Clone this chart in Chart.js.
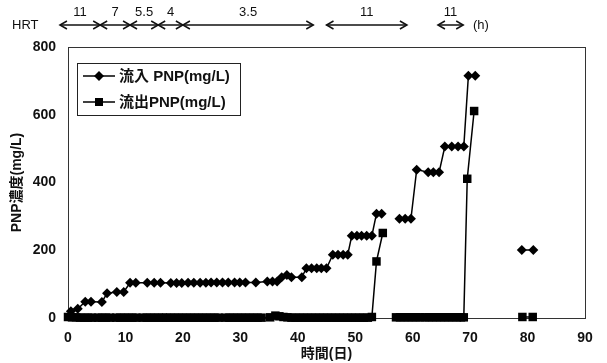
<!doctype html>
<html lang="ja">
<head>
<meta charset="UTF-8">
<script src="https://cdn.jsdelivr.net/npm/chart.js"></script>
<title>PNP濃度の推移</title>
<style>
  html, body { margin: 0; padding: 0; background: #fff; }
  #wrap { width: 607px; height: 363px; position: relative; }
</style>
</head>
<body>
<div id="wrap"><canvas id="chart" width="607" height="363"></canvas></div>
<script>
// 流入: 経過日数 (日) と PNP (mg/L)
const inDays = [0.5, 1.7, 3.0, 4.0, 5.9, 6.8, 8.5, 9.7, 10.8, 11.8, 13.8, 15.0, 16.1, 17.9, 18.9,
  19.8, 20.9, 21.9, 23.0, 24.0, 24.9, 25.9, 26.9, 27.9, 29.0, 29.9, 30.9, 32.7, 34.7, 35.6, 36.4,
  37.2, 38.1, 38.9, 40.7, 41.5, 42.4, 43.3, 44.1, 45.0, 46.1, 47.0, 47.9, 48.7, 49.4, 50.3, 51.1,
  52.0, 52.9, 53.7, 54.6, 56, 57.7, 58.7, 59.7, 60.7, 62.7, 63.6, 64.6, 65.6, 66.8, 67.9,
  68.9, 69.7, 70.9, 75, 79, 81];
const inPnp = [20, 27, 48, 48, 47, 73, 77, 77, 104, 104, 104, 104, 104, 103, 103,
  103, 104, 104, 104, 104, 105, 105, 105, 105, 105, 105, 105, 105, 108, 108, 108,
  120, 127, 120, 120, 147, 147, 147, 147, 147, 187, 187, 187, 187, 243, 243, 243,
  243, 243, 308, 308, null, 293, 293, 293, 438, 430, 430, 430, 506, 506, 506,
  506, 715, 715, null, 201, 201];

// 流出: 経過日数 (日) と PNP (mg/L)
const outDays = [0, 0.7, 1.4, 2.1, 2.8, 3.5, 4.2, 5.2, 5.9, 6.6, 7.3, 8.4, 9.1, 9.8, 10.5, 11.2, 11.9,
  13.0, 13.7, 14.4, 15.1, 15.8, 16.5, 17.1, 17.8, 18.5, 19.2, 19.9, 20.6, 21.3, 22.0, 22.7, 23.4,
  24.1, 24.8, 25.5, 26.2,
  27.4, 28.1, 28.8, 29.5, 30.2, 30.9, 31.6, 32.3, 33.0, 33.7,
  35.2, 36.1, 36.8, 37.5, 38.2, 38.9, 39.6,
  40.3, 41.0, 41.7, 42.4, 43.1, 43.8, 44.5, 45.2, 45.9, 46.6, 47.3, 48.0, 48.7, 49.4, 50.1, 50.8,
  51.5, 52.2, 52.9,
  53.7, 54.8, 56,
  57.1, 57.8, 58.5, 59.2, 59.9, 60.6, 61.3, 62.1, 62.8, 63.5, 64.2, 64.9, 65.6, 66.3, 67.0, 67.7,
  68.4, 68.9,
  69.5, 70.7, 75, 79.1, 80.9];
const outPnp = [3, 2, 2, 1, 1, 1, 1, 1, 1, 1, 1, 1, 1, 1, 1, 1, 1,
  1, 1, 1, 1, 1, 1, 1, 1, 1, 1, 1, 1, 1, 1, 1, 1,
  1, 1, 1, 1,
  1, 1, 1, 1, 1, 1, 1, 1, 1, 1,
  2, 7, 5, 3, 2, 1, 1,
  1, 1, 1, 1, 1, 1, 1, 1, 1, 1, 1, 1, 1, 1, 1, 1,
  1, 1, 3,
  167, 251, null,
  2, 2, 2, 2, 2, 2, 2, 2, 2, 2, 2, 2, 2, 2, 2, 2,
  2, 2,
  411, 611, null, 3, 3];

// HRT (h) の区間 (日の目盛りで読み取り)
const hrtLabels = ['11', '7', '5.5', '4', '3.5', '11', '11'];
const hrtFrom = [-1.4, 5.6, 10.8, 15.7, 20.0, 45.0, 64.4];
const hrtTo = [5.6, 10.8, 15.7, 20.0, 42.7, 59.0, 68.8];

const legendNames = ['流入 PNP(mg/L)', '流出PNP(mg/L)'];

const INK = '#111';
const LATIN = '"Liberation Sans", Arial, "Noto Sans CJK JP", sans-serif';

const toPoints = (xs, ys) => xs.map((d, i) => ({ x: d, y: ys[i] }));

function arrowHead(ctx, x, y, dir) {
  ctx.beginPath();
  ctx.moveTo(x - dir * 7, y - 4);
  ctx.lineTo(x, y);
  ctx.lineTo(x - dir * 7, y + 4);
  ctx.stroke();
}

const extras = {
  id: 'extras',
  beforeDatasetsDraw(chart) {
    const { ctx, chartArea: a } = chart;
    ctx.save();
    ctx.strokeStyle = '#333';
    ctx.lineWidth = 1;
    ctx.strokeRect(a.left + 0.5, a.top + 0.5, a.right - a.left, a.bottom - a.top);
    ctx.restore();
  },
  afterDraw(chart) {
    const { ctx } = chart;
    const xs = chart.scales.x;
    ctx.save();
    // HRT arrows
    const yA = 25;
    ctx.fillStyle = INK;
    ctx.strokeStyle = INK;
    ctx.lineWidth = 1.5;
    ctx.font = '13px ' + LATIN;
    ctx.textBaseline = 'middle';
    ctx.textAlign = 'left';
    ctx.fillText('HRT', 12, yA);
    ctx.textAlign = 'center';
    hrtLabels.forEach((lab, i) => {
      const x0 = xs.getPixelForValue(hrtFrom[i]);
      const x1 = xs.getPixelForValue(hrtTo[i]);
      ctx.beginPath();
      ctx.moveTo(x0, yA);
      ctx.lineTo(x1, yA);
      ctx.stroke();
      arrowHead(ctx, x0, yA, -1);
      arrowHead(ctx, x1, yA, 1);
      ctx.fillText(lab, (x0 + x1) / 2, 12);
    });
    ctx.textAlign = 'left';
    ctx.fillText('(h)', 473, yA);

    // legend
    const bx = 77, by = 63, bw = 163, bh = 52;
    ctx.fillStyle = '#fff';
    ctx.fillRect(bx, by, bw, bh);
    ctx.strokeStyle = '#222';
    ctx.lineWidth = 1;
    ctx.strokeRect(bx + 0.5, by + 0.5, bw, bh);
    ctx.font = 'bold 15px ' + LATIN;
    chart.data.datasets.forEach((ds, i) => {
      const y = by + 13 + i * 26;
      ctx.strokeStyle = '#000';
      ctx.lineWidth = 1.5;
      ctx.beginPath();
      ctx.moveTo(83, y);
      ctx.lineTo(115, y);
      ctx.stroke();
      ctx.fillStyle = '#000';
      ctx.beginPath();
      if (ds.pointStyle === 'rectRot') {
        ctx.moveTo(99 - 5, y); ctx.lineTo(99, y - 5); ctx.lineTo(99 + 5, y); ctx.lineTo(99, y + 5);
      } else {
        ctx.rect(99 - 4, y - 4, 8, 8);
      }
      ctx.closePath();
      ctx.fill();
      ctx.fillStyle = INK;
      ctx.fillText(legendNames[i], 119, y + 1);
    });
    ctx.restore();
  }
};

new Chart(document.getElementById('chart').getContext('2d'), {
  type: 'scatter',
  data: {
    datasets: [
      {
        label: legendNames[0],
        data: toPoints(inDays, inPnp),
        showLine: true,
        spanGaps: false,
        borderColor: '#000',
        borderWidth: 1.5,
        pointStyle: 'rectRot',
        pointRadius: 5,
        pointBackgroundColor: '#000',
        pointBorderColor: '#000',
        pointBorderWidth: 0,
        clip: false
      },
      {
        label: legendNames[1],
        data: toPoints(outDays, outPnp),
        showLine: true,
        spanGaps: false,
        borderColor: '#000',
        borderWidth: 1.5,
        pointStyle: 'rect',
        pointRadius: 6,
        pointBackgroundColor: '#000',
        pointBorderColor: '#000',
        pointBorderWidth: 0,
        clip: false
      }
    ]
  },
  options: {
    responsive: false,
    animation: false,
    layout: { padding: { left: 0, right: 22, top: 47, bottom: 0 } },
    plugins: { legend: { display: false }, tooltip: { enabled: false } },
    scales: {
      x: {
        type: 'linear',
        min: 0, max: 90,
        afterFit: s => { s.height = 45; },
        grid: { display: false, drawTicks: false },
        border: { display: false },
        ticks: { stepSize: 10, color: INK, padding: 12, font: { family: LATIN, size: 14, weight: 'bold' } },
        title: { display: true, text: '時間(日)', color: INK, padding: { top: 0, bottom: 0 },
                 font: { family: LATIN, size: 14, weight: 'bold' } }
      },
      y: {
        min: 0, max: 800,
        afterFit: s => { s.width = 68; },
        grid: { display: false, drawTicks: false },
        border: { display: false },
        ticks: { stepSize: 200, color: INK, padding: 12, font: { family: LATIN, size: 14, weight: 'bold' } },
        title: { display: true, text: 'PNP濃度(mg/L)', color: INK, padding: { top: 9, bottom: 0 },
                 font: { family: LATIN, size: 14, weight: 'bold' } }
      }
    }
  },
  plugins: [extras]
});
</script>
</body>
</html>
